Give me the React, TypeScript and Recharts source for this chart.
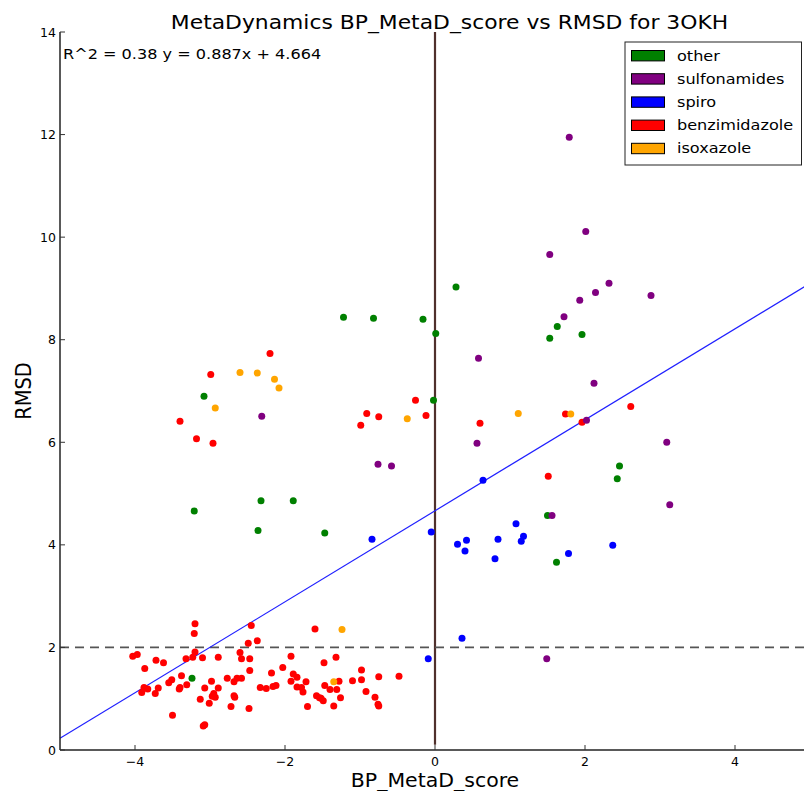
import React from 'react';
import { ScatterChart, Scatter, XAxis, YAxis, ReferenceLine } from 'recharts';

// category order as in the legend
const CATEGORIES = ['other', 'sulfonamides', 'spiro', 'benzimidazole', 'isoxazole'];
const COLORS = ['#008000', '#800080', '#0000ff', '#ff0000', '#ffa500'];

const X_TICKS = [-4, -2, 0, 2, 4];
const Y_TICKS = [0, 2, 4, 6, 8, 10, 12, 14];

// linear fit from the plot annotation
const FIT_SLOPE = 0.887;
const FIT_INTERCEPT = 4.664;
const R_SQUARED = 0.38;
const RMSD_CUTOFF = 2;

const OTHER: [number, number][] = [
    [-3.08, 6.90], [-2.32, 4.86], [-1.89, 4.86], [-3.21, 4.66], [-2.36, 4.28], [-1.47, 4.23],
    [-3.24, 1.40], [-1.22, 8.44], [-0.82, 8.42], [-0.16, 8.40], [0.01, 8.12], [-0.02, 6.82],
    [0.28, 9.03], [1.53, 8.03], [1.63, 8.26], [1.96, 8.10], [1.50, 4.57], [2.46, 5.54],
    [2.43, 5.29], [1.62, 3.66],
];

const SULFONAMIDES: [number, number][] = [
    [-2.31, 6.51], [-0.76, 5.57], [-0.58, 5.54], [0.58, 7.64], [0.56, 5.98], [1.79, 11.95],
    [2.01, 10.11], [1.53, 9.66], [2.32, 9.10], [2.14, 8.92], [2.88, 8.86], [1.93, 8.77],
    [1.72, 8.45], [2.12, 7.15], [2.02, 6.43], [3.09, 6.00], [3.13, 4.78], [1.56, 4.57],
    [1.49, 1.78],
];

const SPIRO: [number, number][] = [
    [-0.09, 1.78], [-0.84, 4.11], [-0.05, 4.25], [0.64, 5.26], [1.08, 4.41], [1.18, 4.17],
    [1.15, 4.07], [0.84, 4.11], [0.42, 4.09], [0.30, 4.01], [0.40, 3.88], [0.80, 3.73],
    [1.78, 3.83], [2.37, 3.99], [0.36, 2.18],
];

const BENZIMIDAZOLE: [number, number][] = [
    [-3.20, 2.46], [-3.21, 2.27], [-2.45, 2.43], [-2.37, 2.13], [-2.49, 2.08], [-4.03, 1.83],
    [-3.97, 1.86], [-3.72, 1.75], [-3.62, 1.70], [-3.87, 1.59], [-3.32, 1.78], [-3.20, 1.91],
    [-3.23, 1.81], [-3.10, 1.80], [-2.89, 1.81], [-2.60, 1.90], [-2.58, 1.78], [-2.47, 1.78],
    [-2.47, 1.55], [-2.33, 1.22], [-3.38, 1.45], [-3.51, 1.37], [-3.55, 1.31], [-3.31, 1.27],
    [-3.40, 1.22], [-3.41, 1.19], [-3.88, 1.22], [-3.83, 1.19], [-3.91, 1.12], [-3.73, 1.10],
    [-3.69, 1.21], [-2.98, 1.34], [-3.07, 1.21], [-2.89, 1.21], [-2.77, 1.40], [-2.64, 1.40],
    [-2.58, 1.40], [-2.68, 1.33], [-2.95, 1.10], [-2.93, 1.03], [-2.97, 1.05], [-2.68, 1.06],
    [-2.67, 1.03], [-3.13, 0.99], [-3.01, 0.91], [-2.72, 0.85], [-2.48, 0.81], [-3.50, 0.68],
    [-3.09, 0.47], [-3.07, 0.49],
    [-1.60, 2.36], [-1.92, 1.83], [-1.48, 1.70], [-1.32, 1.81], [-2.03, 1.61], [-2.18, 1.50],
    [-1.89, 1.48], [-1.84, 1.42], [-1.92, 1.34], [-1.72, 1.33], [-1.84, 1.23], [-1.78, 1.22],
    [-1.76, 1.13], [-2.25, 1.20], [-2.16, 1.24], [-2.12, 1.26], [-1.28, 1.34], [-1.47, 1.26],
    [-1.40, 1.18], [-1.31, 1.18], [-1.10, 1.35], [-0.98, 1.37], [-0.98, 1.56], [-0.75, 1.43],
    [-0.48, 1.44], [-0.92, 1.14], [-0.80, 1.03], [-0.76, 0.89], [-0.75, 0.86], [-1.58, 1.06],
    [-1.54, 1.02], [-1.52, 1.01], [-1.49, 0.96], [-1.26, 1.02], [-1.70, 0.85], [-1.35, 0.86],
    [-2.20, 7.73], [-2.99, 7.32], [-3.40, 6.41], [-3.18, 6.07], [-2.96, 5.98], [-0.26, 6.82],
    [-0.91, 6.56], [-0.75, 6.50], [-0.99, 6.33], [-0.12, 6.52], [0.60, 6.37], [1.51, 5.34],
    [1.74, 6.55], [1.96, 6.39], [2.61, 6.70],
];

const ISOXAZOLE: [number, number][] = [
    [-2.60, 7.36], [-2.37, 7.35], [-2.14, 7.23], [-2.08, 7.06], [-2.93, 6.67], [-0.37, 6.46],
    [1.11, 6.56], [1.81, 6.55], [-1.24, 2.35], [-1.35, 1.33],
];

const SERIES = [OTHER, SULFONAMIDES, SPIRO, BENZIMIDAZOLE, ISOXAZOLE];
// drawing order (later = on top)
const DRAW_ORDER = [3, 2, 0, 1, 4];

const FONT = '"DejaVu Sans", sans-serif';
const STRETCH = 1.15;

const fmt = (v: number) => (v < 0 ? `\u2212${Math.abs(v)}` : `${v}`);

const BottomTick = (props: any) => {
    const { x, y, payload } = props;
    return (
        <g>
            <line x1={x} y1={y} x2={x} y2={y - 5} stroke="#333" strokeWidth={1} />
            <text x={x} y={y + 16} textAnchor="middle" fontSize={12.5} fontFamily={FONT} fill="#000">
                {fmt(payload.value)}
            </text>
        </g>
    );
};

const TopTick = (props: any) => {
    const { x, y } = props;
    return <line x1={x} y1={y} x2={x} y2={y + 5} stroke="#333" strokeWidth={1} />;
};

const LeftTick = (props: any) => {
    const { x, y, payload } = props;
    return (
        <g>
            <line x1={x} y1={y} x2={x + 5} y2={y} stroke="#333" strokeWidth={1} />
            <text x={x - 4} y={y + 4.5} textAnchor="end" fontSize={12.5} fontFamily={FONT} fill="#000">
                {fmt(payload.value)}
            </text>
        </g>
    );
};

export default function App() {
    const fitSegment = [
        { x: -5, y: FIT_INTERCEPT + FIT_SLOPE * -5 },
        { x: 5, y: FIT_INTERCEPT + FIT_SLOPE * 5 },
    ];

    return (
        <div style={{ position: 'fixed', left: 0, top: 0, width: 804, height: 791, overflow: 'hidden', background: '#fff' }}>
            <ScatterChart width={830} height={791} margin={{ top: 32, right: 20, bottom: 0, left: 0 }}>
                <XAxis
                    dataKey="x"
                    type="number"
                    domain={[-5, 5]}
                    ticks={X_TICKS}
                    height={41}
                    tickSize={0}
                    tickMargin={0}
                    tick={<BottomTick />}
                    axisLine={{ stroke: '#222', strokeWidth: 1.5 }}
                    allowDataOverflow
                />
                <XAxis
                    xAxisId="top"
                    orientation="top"
                    type="number"
                    domain={[-5, 5]}
                    ticks={X_TICKS}
                    height={0}
                    tickSize={0}
                    tickMargin={0}
                    tick={<TopTick />}
                    axisLine={{ stroke: '#222', strokeWidth: 1.5 }}
                />
                <YAxis
                    dataKey="y"
                    type="number"
                    domain={[0, 14]}
                    ticks={Y_TICKS}
                    width={60}
                    tickSize={0}
                    tickMargin={0}
                    tick={<LeftTick />}
                    axisLine={{ stroke: '#222', strokeWidth: 1.5 }}
                    allowDataOverflow
                />
                <ReferenceLine
                    segment={[{ x: 0, y: 0.1 }, { x: 0, y: 14 }]}
                    stroke="#4f302c"
                    strokeWidth={2.2}
                />
                <ReferenceLine y={RMSD_CUTOFF} stroke="#555" strokeWidth={1.8} strokeDasharray="9 6" />
                <ReferenceLine segment={fitSegment} stroke="#2020ff" strokeWidth={1.2} />
                {DRAW_ORDER.map((i) => (
                    <Scatter
                        key={CATEGORIES[i]}
                        name={CATEGORIES[i]}
                        data={SERIES[i].map(([x, y]) => ({ x, y }))}
                        fill={COLORS[i]}
                        isAnimationActive={false}
                        shape={(p: any) => <circle cx={p.cx} cy={p.cy} r={3.5} fill={COLORS[i]} />}
                    />
                ))}
            </ScatterChart>

            <svg width={804} height={791} style={{ position: 'absolute', left: 0, top: 0, pointerEvents: 'none' }}>
                <text
                    transform={`translate(449.5,29) scale(${STRETCH},1)`}
                    textAnchor="middle"
                    fontSize={19}
                    fontFamily={FONT}
                    fill="#000"
                >
                    MetaDynamics BP_MetaD_score vs RMSD for 3OKH
                </text>
                <text transform={`translate(63,59) scale(${STRETCH},1)`} fontSize={14} fontFamily={FONT} fill="#000">
                    {`R^2 = ${R_SQUARED} y = ${FIT_SLOPE}x + ${FIT_INTERCEPT}`}
                </text>
                <text
                    transform="translate(435,787) scale(1.05,1)"
                    textAnchor="middle"
                    fontSize={19.5}
                    fontFamily={FONT}
                    fill="#000"
                >
                    BP_MetaD_score
                </text>
                <text
                    transform="translate(31,391) rotate(-90) scale(1,1.1)"
                    textAnchor="middle"
                    fontSize={19.5}
                    fontFamily={FONT}
                    fill="#000"
                >
                    RMSD
                </text>

                {/* legend */}
                <rect x={625} y={42} width={176.5} height={123} fill="#fff" stroke="#222" strokeWidth={1} />
                {CATEGORIES.map((c, i) => {
                    const cy = 55.7 + i * 23.2;
                    return (
                        <g key={c}>
                            <rect x={631.5} y={cy - 5.2} width={33} height={10.4} fill={COLORS[i]} stroke="#000" strokeWidth={1} />
                            <text
                                transform={`translate(677,${cy + 4.8}) scale(${STRETCH},1)`}
                                fontSize={14}
                                fontFamily={FONT}
                                fill="#000"
                            >
                                {c}
                            </text>
                        </g>
                    );
                })}
            </svg>
        </div>
    );
}
